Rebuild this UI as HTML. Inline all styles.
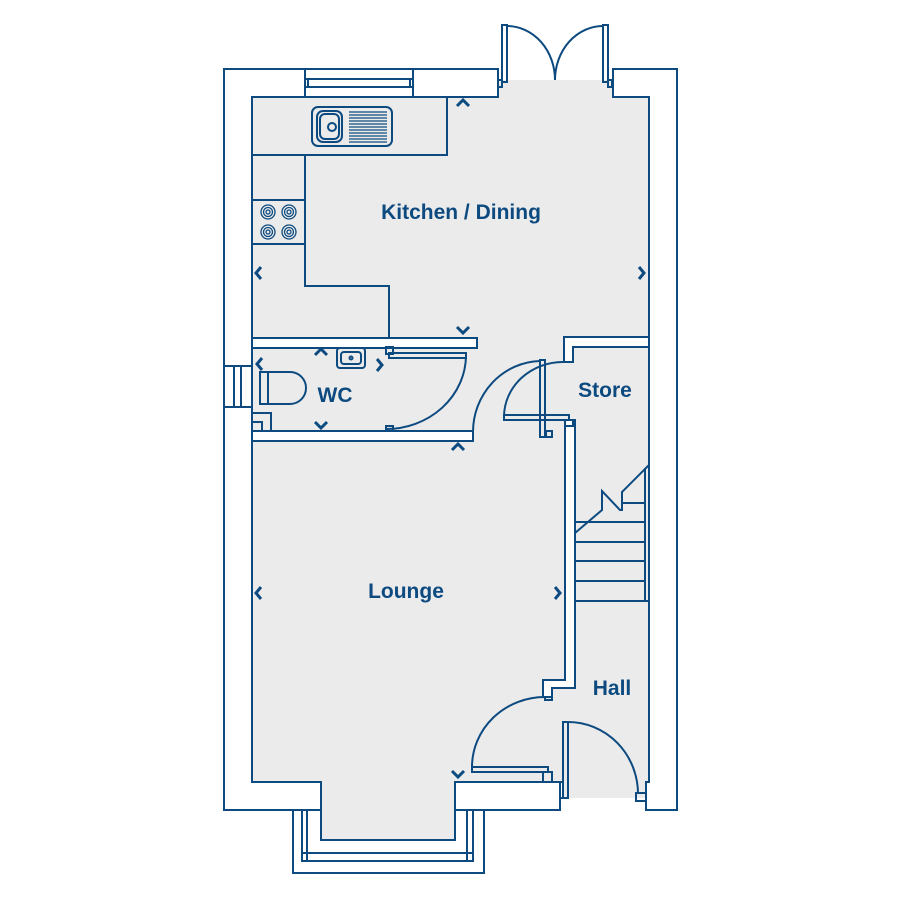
<!DOCTYPE html>
<html><head><meta charset="utf-8"><style>
html,body{margin:0;padding:0;background:#fff;}
svg{display:block;}
text{font-family:"Liberation Sans",sans-serif;font-weight:bold;fill:#0d4a80;}
</style></head><body>
<svg width="900" height="900" viewBox="0 0 900 900" xmlns="http://www.w3.org/2000/svg">
<g fill="#ebebeb" stroke="none">
<rect x="252" y="97" width="397" height="685"/>
<rect x="498" y="80" width="115" height="20"/>
<rect x="321" y="780" width="134" height="60"/>
<rect x="562" y="780" width="84" height="18"/>
</g>
<g fill="#fff" stroke="#0d4a80" stroke-width="2">
<path d="M498,97 L498,69 L224,69 L224,810 L321,810 L321,782 L252,782 L252,97 Z"/>
<path d="M613,97 L613,69 L677,69 L677,810 L646,810 L646,782 L649,782 L649,97 Z"/>
<rect x="455" y="782" width="105" height="28"/>
<rect x="305" y="69" width="108" height="28"/>
<rect x="305" y="79" width="108" height="8"/>
<rect x="252" y="338" width="225" height="10"/>
<rect x="252" y="431" width="221" height="10"/>
<path d="M564,362 L564,337 L649,337 L649,347 L573,347 L573,362 Z"/>
<path d="M565,420 L575,420 L575,688 L552,688 L552,697 L543,697 L543,680 L565,680 Z"/>
<rect x="224" y="366" width="28" height="41"/>
</g>
<g fill="none" stroke="#0d4a80" stroke-width="2">
<line x1="308" y1="79" x2="308" y2="87"/><line x1="410" y1="79" x2="410" y2="87"/>
<!-- bay -->
<path d="M321,810 L321,840 L455,840 L455,810"/>
<path d="M293,810 L293,873 L484,873 L484,810"/>
<path d="M302,810 L302,861 L473,861 L473,810"/>
<path d="M307,810 L307,861 M302,853 L473,853 M467,810 L467,861"/>
<!-- WC window lines -->
<line x1="234" y1="366" x2="234" y2="407"/><line x1="241" y1="366" x2="241" y2="407"/>
<!-- kitchen counters -->
<path d="M252,155 L447,155 L447,97"/>
<path d="M305,155 L305,286 L389,286 L389,338"/>
<line x1="252" y1="200" x2="305" y2="200"/><line x1="252" y1="244" x2="305" y2="244"/>
<rect x="312" y="107" width="80" height="39" rx="6"/>
<rect x="317" y="111" width="25" height="31" rx="6"/>
<circle cx="332" cy="127" r="4"/>
<rect x="320" y="114" width="19" height="25" rx="5"/>
<!-- french doors -->
<rect x="502" y="25" width="5" height="57"/><rect x="498" y="80" width="4" height="7"/>
<rect x="603" y="25" width="5" height="57"/><rect x="608" y="80" width="4" height="7"/>
<path d="M507,26 A48,54 0 0 1 555,80"/>
<path d="M603,26 A48,54 0 0 0 555,80"/>
<!-- WC door -->
<rect x="386" y="347" width="7" height="7"/>
<rect x="389" y="353" width="77" height="5"/>
<path d="M466,356 A80,74 0 0 1 386,429"/>
<rect x="386" y="426" width="7" height="5"/>
<!-- WC items -->
<path d="M260,372 L268,372 L268,404 L260,404 Z"/>
<path d="M268,372 L290,372 A16,16 0 0 1 290,404 L268,404"/>
<rect x="337" y="348" width="28" height="20" rx="3"/>
<rect x="341" y="352" width="20" height="12" rx="3"/>
<circle cx="351" cy="358" r="1.5"/>
<path d="M252,413 L271,413 L271,431"/>
<path d="M252,422 L262,422 L262,431"/>
<!-- lounge door (top) -->
<rect x="540" y="360" width="5" height="77"/>
<path d="M473,432 A69,71 0 0 1 540,361"/>
<rect x="546" y="431" width="6" height="6"/>
<!-- store door -->
<rect x="504" y="415" width="65" height="5"/>
<path d="M504,416 A59,55 0 0 1 563,362"/>
<rect x="565" y="420" width="8" height="6"/>
<!-- stairs -->
<line x1="645" y1="468" x2="645" y2="601"/>
<line x1="622" y1="503" x2="645" y2="503"/>
<line x1="575" y1="522" x2="645" y2="522"/>
<line x1="575" y1="542" x2="645" y2="542"/>
<line x1="575" y1="561" x2="645" y2="561"/>
<line x1="575" y1="581" x2="645" y2="581"/>
<line x1="575" y1="601" x2="649" y2="601"/>
<path d="M575,533 L602,510 L602,491 L620,510 L622,510 L622,492 L649,465"/>
<!-- lounge door bottom -->
<rect x="472" y="767" width="76" height="5"/>
<path d="M472,767 A73,70 0 0 1 545,697"/>
<rect x="543" y="772" width="9" height="10"/>
<rect x="545" y="697" width="7" height="3"/>
<!-- front door -->
<rect x="563" y="722" width="5" height="76"/>
<rect x="560" y="782" width="3" height="16"/>
<path d="M568,722 A70,72 0 0 1 638,794"/>
<rect x="636" y="793" width="10" height="8"/>
</g>
<!-- burners -->
<g fill="none" stroke="#0d4a80" stroke-width="1.3">
<circle cx="268" cy="212" r="7"/><circle cx="268" cy="212" r="4.5"/><circle cx="268" cy="212" r="2"/>
<circle cx="289" cy="212" r="7"/><circle cx="289" cy="212" r="4.5"/><circle cx="289" cy="212" r="2"/>
<circle cx="268" cy="232" r="7"/><circle cx="268" cy="232" r="4.5"/><circle cx="268" cy="232" r="2"/>
<circle cx="289" cy="232" r="7"/><circle cx="289" cy="232" r="4.5"/><circle cx="289" cy="232" r="2"/>
<path d="M349,112H387M349,115H387M349,118H387M349,121H387M349,124H387M349,127H387M349,130H387M349,133H387M349,136H387M349,139H387M349,142H387"/>
</g>
<!-- chevrons -->
<g fill="none" stroke="#0d4a80" stroke-width="3">
<path d="M457,106 L463,100 L469,106"/>
<path d="M261,267 L256,273 L261,279"/>
<path d="M639,267 L644,273 L639,279"/>
<path d="M457,327 L463,333 L469,327"/>
<path d="M315,355 L321,349 L327,355"/>
<path d="M262,358 L257,364 L262,370"/>
<path d="M377,359 L382,365 L377,371"/>
<path d="M315,422 L321,428 L327,422"/>
<path d="M452,450 L458,444 L464,450"/>
<path d="M261,587 L256,593 L261,599"/>
<path d="M555,587 L560,593 L555,599"/>
<path d="M452,771 L458,777 L464,771"/>
</g>
<text x="461" y="219" font-size="21" text-anchor="middle">Kitchen / Dining</text>
<text x="335" y="402" font-size="21" text-anchor="middle">WC</text>
<text x="605" y="397" font-size="21" text-anchor="middle">Store</text>
<text x="406" y="598" font-size="21" text-anchor="middle">Lounge</text>
<text x="612" y="695" font-size="21" text-anchor="middle">Hall</text>
</svg>
</body></html>
